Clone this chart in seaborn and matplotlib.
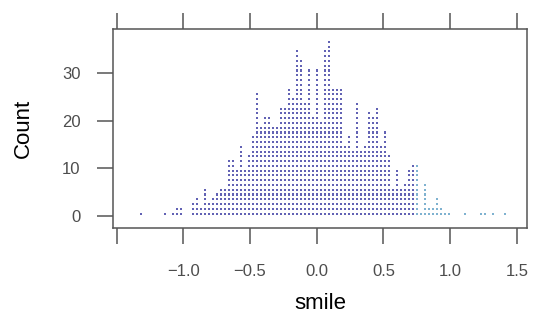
import numpy as np
import pandas as pd
import matplotlib
matplotlib.use("Agg")
import matplotlib.pyplot as plt
import seaborn as sns

# bin centres of the "smile" values and how many observations fall in each
smile_bins = [-1.32, -1.14, -1.08, -1.05, -1.02,
              -0.93, -0.90, -0.87, -0.84, -0.81, -0.78, -0.75, -0.72, -0.69, -0.66,
              -0.63, -0.60, -0.57, -0.54, -0.51, -0.48, -0.45, -0.42, -0.39, -0.36,
              -0.33, -0.30, -0.27, -0.24, -0.21, -0.18, -0.15, -0.12, -0.09, -0.06,
              -0.03, 0.00, 0.03, 0.06, 0.09, 0.12, 0.15, 0.18, 0.21, 0.24,
              0.27, 0.30, 0.33, 0.36, 0.39, 0.42, 0.45, 0.48, 0.51, 0.54,
              0.57, 0.60, 0.63, 0.66, 0.69, 0.72, 0.75, 0.78, 0.81, 0.84,
              0.87, 0.90, 0.93, 0.96, 0.99,
              1.11, 1.23, 1.26, 1.32, 1.41]
counts = [1, 1, 1, 2, 2,
          3, 4, 2, 6, 3, 4, 5, 6, 6, 12,
          12, 10, 15, 10, 13, 17, 26, 19, 21, 21,
          19, 19, 23, 23, 27, 25, 35, 33, 24, 31,
          21, 31, 20, 35, 37, 27, 27, 27, 15, 17,
          14, 24, 14, 15, 22, 21, 23, 15, 18, 13,
          6, 10, 6, 7, 10, 11, 11, 1, 7, 2,
          2, 4, 2, 1, 1,
          1, 1, 1, 1, 1]
split_at = 0.74  # bins above this are drawn in the lighter colour

x_ticks = [-1.5, -1.0, -0.5, 0.0, 0.5, 1.0, 1.5]
x_labels = ["", "\u22121.0", "\u22120.5", "0.0", "0.5", "1.0", "1.5"]
y_ticks = [0, 10, 20, 30]

# one dot per observation, stacked in its bin
rows = []
for b, n in zip(smile_bins, counts):
    for k in range(1, n + 1):
        rows.append({"smile": b, "Count": k - 0.5,
                     "grp": "hi" if b > split_at else "lo"})
dots = pd.DataFrame(rows)

sns.set_style("white")
plt.rcParams["font.family"] = ["Liberation Sans", "DejaVu Sans"]

fig = plt.figure(figsize=(5.38, 3.24), dpi=100)
ax = fig.add_axes([0.2106, 0.2954, 0.7690, 0.6151])

sns.scatterplot(data=dots, x="smile", y="Count", hue="grp",
                palette={"lo": "#6262b4", "hi": "#7fb2d0"},
                marker="s", s=2.3, linewidth=0, legend=False, ax=ax)

ax.set_xlim(-1.5255, 1.577)
ax.set_ylim(-2.58, 39.2)
ax.set_xticks(x_ticks)
ax.set_xticklabels(x_labels)
ax.set_yticks(y_ticks)

axis_col = "#555555"
for sp in ax.spines.values():
    sp.set_color(axis_col)
    sp.set_linewidth(1.1)
ax.tick_params(axis="x", which="both", direction="out", length=11.5, width=1.1,
               color=axis_col, top=True, bottom=True, labelsize=12,
               labelcolor="#4d4d4d", pad=14)
ax.tick_params(axis="y", direction="out", length=11.5, width=1.1,
               color=axis_col, left=True, right=False, labelsize=12,
               labelcolor="#4d4d4d", pad=12)

ax.set_xlabel("smile", fontsize=16, color="black", labelpad=10)
ax.set_ylabel("Count", fontsize=16, color="black", labelpad=20)

fig.savefig("out.png", dpi=100)
